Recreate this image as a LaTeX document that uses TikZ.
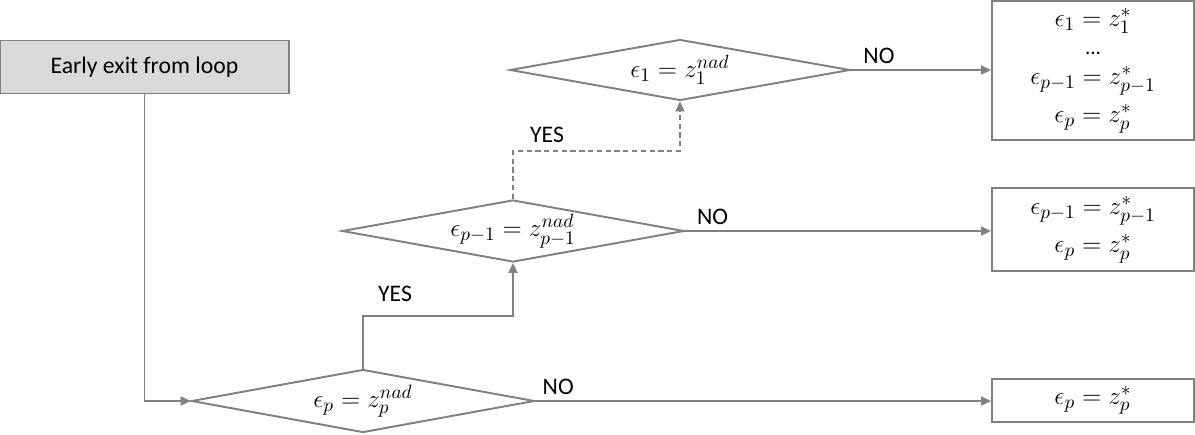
\documentclass[tikz,border=0pt]{standalone}
\usepackage{fontspec}
\setmainfont{Carlito}
\usepackage{amsmath}
\usetikzlibrary{arrows.meta,shapes.geometric}
\definecolor{linegray}{HTML}{808080}
\definecolor{exitfill}{HTML}{D9D9D9}

\begin{document}
\begin{tikzpicture}[font=\fontsize{13.5}{16}\selectfont]
		\useasboundingbox (0,0) rectangle (23.9,-8.68);

		\begin{scope}[every node/.style={rectangle,draw=linegray,line width=1.1pt,align=center,minimum width=4.04cm,font=\fontsize{15.5}{19}\selectfont}]
			\node[fill=exitfill,minimum width=5.78cm,minimum height=1.06cm,font=\fontsize{13.5}{16}\selectfont] (exit) at (2.89,-1.34) {Early exit from loop};
			\node[minimum height=2.78cm] (r1) at (21.86,-1.41) {$\epsilon_1 = z_1^*$\\[-3pt] {\fontsize{12}{14}\selectfont ...}\\[-2pt] $\epsilon_{p-1} = z_{p-1}^*$\\[3pt] $\epsilon_p = z_p^*$};
			\node[minimum height=1.66cm] (r2) at (21.86,-4.59) {$\epsilon_{p-1} = z_{p-1}^*$\\[3pt] $\epsilon_p = z_p^*$};
			\node[minimum height=0.86cm] (r3) at (21.86,-8.01) {$\epsilon_p = z_p^*$};
		\end{scope}

		\begin{scope}[every node/.style={diamond,draw=linegray,line width=1.1pt,aspect=5.5,inner sep=0pt,font=\fontsize{15.5}{19}\selectfont}]
			\node[minimum width=6.86cm,minimum height=1.26cm] (dp) at (7.26,-8.02) {$\epsilon_p = z_p^{nad}$};
			\node[minimum width=6.84cm,minimum height=1.24cm] (dq) at (10.26,-4.62) {$\epsilon_{p-1} = z_{p-1}^{nad}$};
			\node[minimum width=6.80cm,minimum height=1.22cm] (d1) at (13.60,-1.40) {$\epsilon_1 = z_1^{nad}$};
		\end{scope}

		\begin{scope}[>={Triangle[length=0.2cm,width=0.18cm]},
					  draw=linegray, line width=1.1pt,
					  every edge/.style={draw=linegray,line width=1.1pt}]
			\path [->] (d1.east) edge node[above,pos=0.2] (no1) {NO} (d1.east -| r1.west);
			\path [->] (dq.east) edge node[above,pos=0.09] (noq) {NO} (dq.east -| r2.west);
			\path [->] (dp.east) edge node[above,pos=0.05] (nop) {NO} (dp.east -| r3.west);
			\draw [->] (exit.south) |- (dp.west);
			\draw [->] (dp.north) -- ++(0,1.06) -| (dq.south);
			\draw [->,dash pattern=on 3pt off 2pt] (dq.north) -- ++(0,0.96) -| (d1.south);
			\node (yesp) at (7.90,-5.88) {YES};
			\node (yesq) at (10.94,-2.70) {YES};
		\end{scope}
\end{tikzpicture}
\end{document}
